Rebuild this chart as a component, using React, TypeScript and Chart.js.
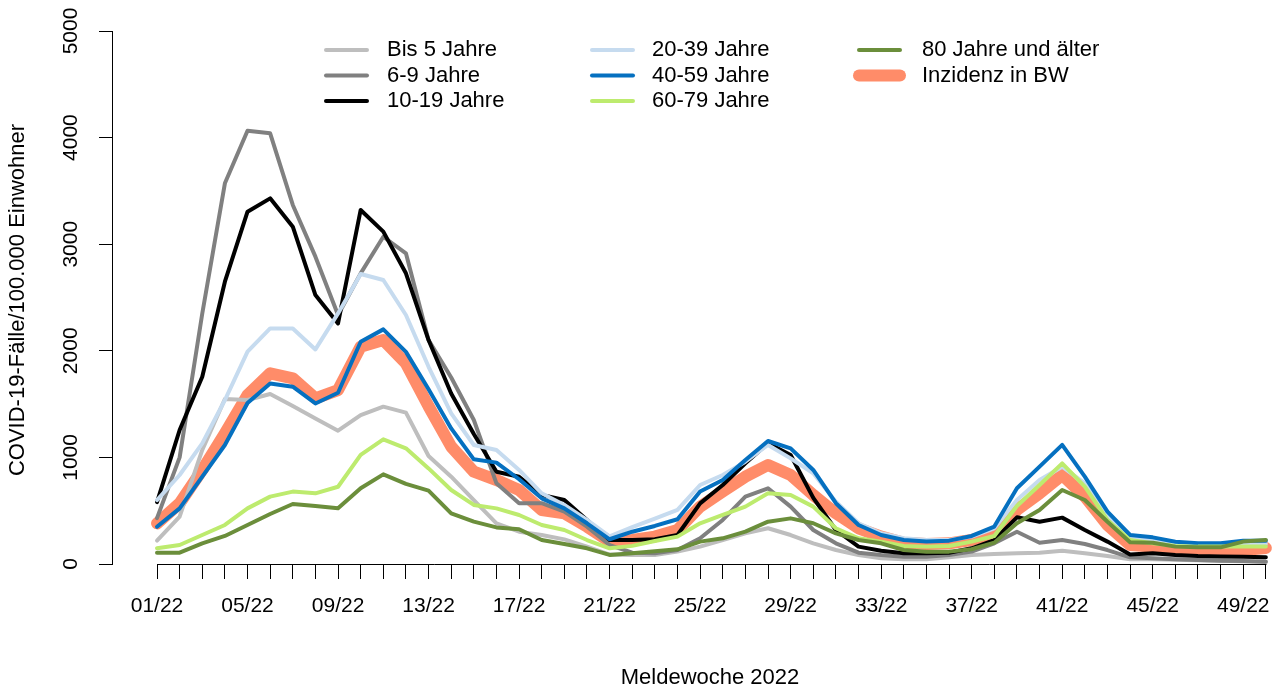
import React, { useEffect, useRef } from "react";
import { Chart, registerables } from "chart.js";

Chart.register(...registerables);

const weeks = [
  "01/22", "02/22", "03/22", "04/22", "05/22", "06/22", "07/22", "08/22", "09/22", "10/22",
  "11/22", "12/22", "13/22", "14/22", "15/22", "16/22", "17/22", "18/22", "19/22", "20/22",
  "21/22", "22/22", "23/22", "24/22", "25/22", "26/22", "27/22", "28/22", "29/22", "30/22",
  "31/22", "32/22", "33/22", "34/22", "35/22", "36/22", "37/22", "38/22", "39/22", "40/22",
  "41/22", "42/22", "43/22", "44/22", "45/22", "46/22", "47/22", "48/22", "49/22", "50/22",
];

const yTicks = [0, 1000, 2000, 3000, 4000, 5000];

const bis5 = [219, 444, 1070, 1548, 1538, 1595, 1482, 1366, 1251, 1397, 1476, 1420, 1013, 819, 600, 381, 303, 272, 231, 163, 88, 85, 85, 116, 163, 225, 288, 335, 272, 194, 131, 85, 53, 44, 44, 63, 85, 94, 100, 106, 125, 100, 75, 44, 44, 40, 35, 30, 25, 20];
const age6to9 = [430, 1000, 2350, 3571, 4065, 4040, 3368, 2883, 2336, 2726, 3070, 2914, 2100, 1750, 1351, 757, 570, 570, 491, 350, 178, 106, 100, 131, 241, 413, 632, 710, 538, 319, 194, 106, 85, 69, 69, 85, 116, 194, 303, 200, 225, 188, 131, 63, 53, 44, 38, 31, 28, 22];
const age10to19 = [580, 1257, 1757, 2648, 3305, 3430, 3164, 2523, 2257, 3321, 3118, 2727, 2101, 1600, 1220, 866, 819, 647, 600, 413, 225, 225, 232, 272, 569, 741, 944, 1132, 1023, 620, 319, 163, 125, 100, 100, 106, 147, 225, 438, 397, 435, 319, 210, 90, 100, 85, 75, 70, 68, 63];
const age20to39 = [600, 835, 1132, 1538, 1992, 2210, 2210, 2013, 2351, 2720, 2664, 2336, 1850, 1413, 1116, 1069, 882, 663, 554, 413, 260, 345, 425, 507, 741, 835, 960, 1117, 991, 851, 585, 382, 288, 241, 225, 225, 257, 335, 600, 788, 913, 757, 460, 257, 225, 194, 188, 178, 178, 188];
const age40to59 = [350, 522, 819, 1116, 1510, 1694, 1663, 1506, 1606, 2085, 2201, 1990, 1640, 1272, 982, 951, 795, 616, 522, 382, 232, 303, 357, 420, 680, 788, 976, 1154, 1085, 882, 570, 366, 272, 225, 210, 219, 263, 351, 710, 913, 1117, 820, 491, 272, 250, 209, 194, 194, 219, 219];
const age60to79 = [147, 178, 272, 366, 522, 632, 679, 663, 725, 1023, 1170, 1085, 897, 694, 554, 522, 460, 366, 319, 225, 147, 170, 215, 257, 382, 460, 538, 663, 647, 538, 335, 241, 210, 169, 163, 169, 210, 263, 544, 741, 944, 725, 413, 225, 194, 170, 163, 163, 163, 163];
const age80plus = [106, 106, 194, 263, 366, 469, 563, 544, 522, 710, 841, 751, 688, 475, 397, 343, 326, 225, 188, 147, 85, 100, 120, 138, 210, 241, 303, 397, 428, 382, 288, 225, 194, 131, 116, 116, 138, 200, 382, 507, 694, 600, 397, 205, 200, 163, 156, 156, 210, 225];
const inzidenzBW = [381, 569, 882, 1226, 1585, 1789, 1742, 1554, 1632, 2039, 2101, 1882, 1480, 1101, 866, 788, 694, 507, 475, 350, 210, 225, 257, 319, 538, 679, 819, 929, 835, 647, 475, 335, 257, 200, 188, 194, 225, 288, 507, 663, 835, 632, 366, 178, 163, 131, 125, 125, 131, 150];

const seriesLabels = [
  "Bis 5 Jahre", "6-9 Jahre", "10-19 Jahre", "20-39 Jahre",
  "40-59 Jahre", "60-79 Jahre", "80 Jahre und älter", "Inzidenz in BW",
];
const seriesValues = [bis5, age6to9, age10to19, age20to39, age40to59, age60to79, age80plus, inzidenzBW];
const seriesColors = ["#BEBEBE", "#808080", "#000000", "#C6DBEF", "#0570C0", "#BDEB6E", "#6B8E3B", "#FF8C69"];
const seriesWidths = [4, 4, 4, 4, 4, 4, 4, 12];
const seriesOrder = [6, 5, 4, 3, 2, 1, 0, 7];

const FONT = "'Liberation Sans', Arial, Helvetica, sans-serif";

export default function App() {
  const ref = useRef<HTMLCanvasElement>(null);

  useEffect(() => {
    const canvas = ref.current;
    if (!canvas) return;

    const textPlugin = {
      id: "rStyleText",
      afterDraw(chart: any) {
        const ctx = chart.ctx;
        const xs = chart.scales.x;
        const ys = chart.scales.y;
        const area = chart.chartArea;
        ctx.save();
        // x axis line from first to last tick (R style)
        ctx.strokeStyle = "#000";
        ctx.lineWidth = 1;
        const yb = Math.round(area.bottom) + 0.5;
        ctx.beginPath();
        ctx.moveTo(Math.round(xs.getPixelForValue(0)) + 0.5, yb);
        ctx.lineTo(Math.round(xs.getPixelForValue(weeks.length - 1)) + 0.5, yb);
        ctx.stroke();

        ctx.fillStyle = "#000";
        // x tick labels
        ctx.font = `21px ${FONT}`;
        ctx.textAlign = "center";
        ctx.textBaseline = "middle";
        weeks.forEach((w, i) => {
          if (i % 4 === 0) ctx.fillText(w, xs.getPixelForValue(i), 606);
        });
        // y tick labels (rotated)
        yTicks.forEach((v) => {
          const py = ys.getPixelForValue(v);
          ctx.save();
          ctx.translate(71.5, py);
          ctx.rotate(-Math.PI / 2);
          ctx.fillText(String(v), 0, 0);
          ctx.restore();
        });
        // axis titles
        ctx.font = `22px ${FONT}`;
        ctx.fillText("Meldewoche 2022", 710, 678);
        ctx.save();
        ctx.translate(17.5, 300);
        ctx.rotate(-Math.PI / 2);
        ctx.fillText("COVID-19-Fälle/100.000 Einwohner", 0, 0);
        ctx.restore();

        // legend (three columns, column-major)
        const colLineX = [326, 592, 859];
        const colTextX = [387, 652, 922];
        const rowY = [50, 75.5, 101];
        ctx.textAlign = "left";
        chart.data.datasets.forEach((ds: any, i: number) => {
          const col = Math.floor(i / 3);
          const row = i % 3;
          const y = rowY[row];
          ctx.beginPath();
          ctx.strokeStyle = ds.borderColor;
          ctx.lineWidth = ds.borderWidth;
          ctx.lineCap = "round";
          ctx.moveTo(colLineX[col], y);
          ctx.lineTo(colLineX[col] + 41, y);
          ctx.stroke();
          ctx.fillStyle = "#000";
          ctx.fillText(ds.label, colTextX[col], y);
        });
        ctx.restore();
      },
    };

    const datasets = seriesLabels.map((label, s) => ({
      label,
      data: seriesValues[s].map((v, i) => ({ x: i, y: v })),
      borderColor: seriesColors[s],
      backgroundColor: seriesColors[s],
      borderWidth: seriesWidths[s],
      order: seriesOrder[s],
      pointRadius: 0,
      pointHoverRadius: 0,
      tension: 0,
      fill: false,
      borderCapStyle: "round" as const,
      borderJoinStyle: "round" as const,
    }));

    const chart = new Chart(canvas, {
      type: "line",
      data: { datasets },
      plugins: [textPlugin],
      options: {
        animation: false,
        responsive: false,
        devicePixelRatio: 1,
        events: [],
        layout: { padding: { top: 31, left: 0, right: 0, bottom: 0 } },
        plugins: {
          legend: { display: false },
          tooltip: { enabled: false },
          title: { display: false },
        },
        scales: {
          x: {
            type: "linear",
            min: -1.989,
            max: 49.36,
            afterBuildTicks: (scale: any) => {
              scale.ticks = weeks.map((_, i) => ({ value: i }));
            },
            afterFit: (scale: any) => {
              scale.height = 126;
              scale.paddingLeft = 0;
              scale.paddingRight = 0;
            },
            ticks: { display: false, autoSkip: false },
            grid: {
              drawOnChartArea: false,
              drawTicks: true,
              tickLength: 15,
              color: "#000",
              lineWidth: 1,
            },
            border: { display: false },
          },
          y: {
            type: "linear",
            min: 0,
            max: 5000,
            afterBuildTicks: (scale: any) => {
              scale.ticks = yTicks.map((v) => ({ value: v }));
            },
            afterFit: (scale: any) => {
              scale.width = 112;
              scale.paddingTop = 0;
              scale.paddingBottom = 0;
            },
            ticks: { display: false },
            grid: {
              drawOnChartArea: false,
              drawTicks: true,
              tickLength: 13,
              color: "#000",
              lineWidth: 1,
            },
            border: { display: true, color: "#000", width: 1 },
          },
        },
      },
    });

    return () => {
      chart.destroy();
    };
  }, []);

  return (
    <div style={{ position: "absolute", left: 0, top: 0, width: 1274, height: 690, background: "#fff" }}>
      <canvas ref={ref} width={1274} height={690} style={{ display: "block", width: 1274, height: 690 }} />
    </div>
  );
}
